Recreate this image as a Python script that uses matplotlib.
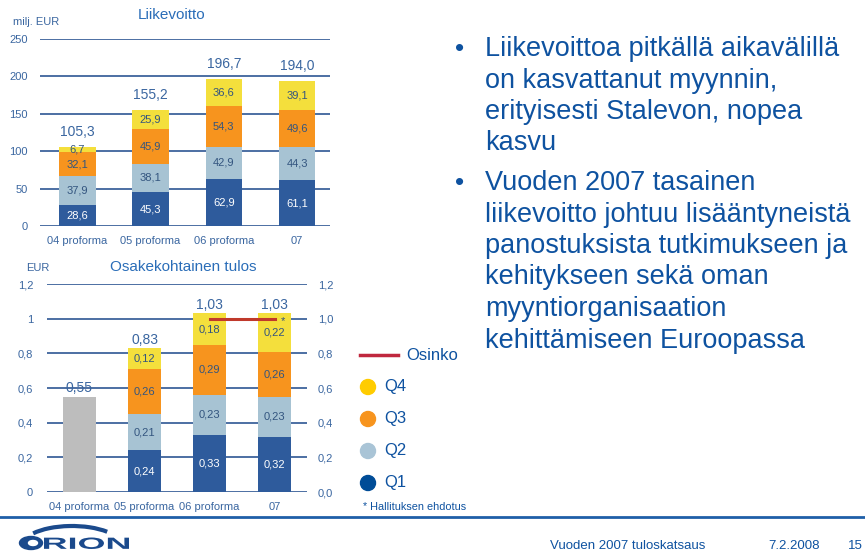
import matplotlib.pyplot as plt
import numpy as np
from matplotlib.patches import Ellipse, Arc, PathPatch
from matplotlib.textpath import TextPath
from matplotlib.font_manager import FontProperties
from matplotlib.transforms import Affine2D

plt.rcParams['font.family'] = ['Liberation Sans', 'DejaVu Sans']

# ---- data ----
years = ["04 proforma", "05 proforma", "06 proforma", "07"]

# Liikevoitto (milj. EUR), quarters stacked Q1..Q4
ebit_q1 = [28.6, 45.3, 62.9, 61.1]
ebit_q2 = [37.9, 38.1, 42.9, 44.3]
ebit_q3 = [32.1, 45.9, 54.3, 49.6]
ebit_q4 = [6.7, 25.9, 36.6, 39.1]
ebit_total = [105.3, 155.2, 196.7, 194.0]

# Osakekohtainen tulos (EUR)
eps_04 = [0.55]  # 04 proforma, full year only
eps_q1 = [0.24, 0.33, 0.32]
eps_q2 = [0.21, 0.23, 0.23]
eps_q3 = [0.26, 0.29, 0.26]
eps_q4 = [0.12, 0.18, 0.22]
eps_total = [0.55, 0.83, 1.03, 1.03]
dividend_x = [2, 3]
dividend = [1.0, 1.0]

quarters = ["Q4", "Q3", "Q2", "Q1"]

# ---- style ----
C_Q1 = "#2E5B9C"
C_Q2 = "#A7C3D3"
C_Q3 = "#F7941E"
C_Q4 = "#F4DF3C"
C_GRAY = "#BDBDBD"
C_GRID = "#4C6FA3"
C_TICK = "#3A66A0"
C_TEXT = "#0E52A0"
C_INNER = "#33557F"
C_DIV = "#C0392B"
C_LOGO = "#1B4A8C"
LEG_COLORS = ["#FFCC00", "#F7941E", "#A9C4D6", "#004C97"]

W, H = 865, 554
fig = plt.figure(figsize=(W / 100, H / 100), dpi=100)


def px_axes(left, top, right, bottom):
    return fig.add_axes([left / W, 1 - bottom / H, (right - left) / W, (bottom - top) / H])


def fmt(v, nd):
    return f"{v:.{nd}f}".replace(".", ",")


def style_axes(ax, yticks, ylabels, pad):
    ax.set_yticks(yticks)
    ax.set_yticklabels(ylabels)
    ax.grid(axis="y", color=C_GRID, linewidth=1.4)
    ax.set_axisbelow(True)
    for s in ax.spines.values():
        s.set_visible(False)
    ax.tick_params(axis="both", length=0, labelsize=8, colors=C_TICK)
    ax.tick_params(axis="y", pad=pad)
    ax.tick_params(axis="x", pad=7)
    ax.set_xticks(range(len(years)))
    ax.set_xticklabels(years)


# ---- top chart: Liikevoitto ----
ax1 = px_axes(40, 39, 330, 226)
x = np.arange(len(years))
colors = [C_Q1, C_Q2, C_Q3, C_Q4]
bottom = np.zeros(len(years))
for i, (vals, c) in enumerate(zip([ebit_q1, ebit_q2, ebit_q3, ebit_q4], colors)):
    vals = np.array(vals)
    ax1.bar(x, vals, bottom=bottom, width=0.5, color=c, zorder=3)
    for xi, v, b in zip(x, vals, bottom):
        ax1.text(xi, b + v / 2, fmt(v, 1), ha="center", va="center", fontsize=8,
                 color="white" if i == 0 else C_INNER, zorder=4)
    bottom += vals
for xi, t, b in zip(x, ebit_total, bottom):
    ax1.text(xi, b + 11, fmt(t, 1), ha="center", va="bottom", fontsize=10, color=C_TICK)
ax1.set_ylim(0, 250)
ax1.set_xlim(-0.51, 3.45)
style_axes(ax1, [0, 50, 100, 150, 200, 250], ["0", "50", "100", "150", "200", "250"], 9)

# ---- bottom chart: EPS ----
ax2 = px_axes(47, 284, 307, 492)
x2 = np.arange(1, 4)
ax2.bar([0], eps_04, width=0.51, color=C_GRAY, zorder=3)
bottom = np.zeros(3)
for i, (vals, c) in enumerate(zip([eps_q1, eps_q2, eps_q3, eps_q4], colors)):
    vals = np.array(vals)
    ax2.bar(x2, vals, bottom=bottom, width=0.51, color=c, zorder=3)
    for xi, v, b in zip(x2, vals, bottom):
        ax2.text(xi, b + v / 2, fmt(v, 2), ha="center", va="center", fontsize=8,
                 color="white" if i == 0 else C_INNER, zorder=4)
    bottom += vals
tops = [eps_04[0]] + list(bottom)
for xi, t, b in zip(range(4), eps_total, tops):
    ax2.text(xi, b + 0.008, fmt(t, 2), ha="center", va="bottom", fontsize=10, color=C_TICK, zorder=5)
ax2.plot(dividend_x, dividend, color=C_DIV, linewidth=2.2, zorder=5)
ax2.text(3.13, 0.985, "*", ha="center", va="center", fontsize=8, color=C_INNER, zorder=6)
ax2.set_ylim(0, 1.2)
ax2.set_xlim(-0.5, 3.5)
eps_ticks = [0, 0.2, 0.4, 0.6, 0.8, 1.0, 1.2]
style_axes(ax2, eps_ticks, ["0", "0,2", "0,4", "0,6", "0,8", "1", "1,2"], 10)
ax2r = ax2.twinx()
ax2r.set_ylim(0, 1.2)
ax2r.set_yticks(eps_ticks)
ax2r.set_yticklabels([fmt(t, 1) for t in eps_ticks])
for s in ax2r.spines.values():
    s.set_visible(False)
ax2r.tick_params(axis="y", length=0, labelsize=8, colors=C_TICK, pad=8)

# ---- overlay in pixel coords for slide text ----
ov = fig.add_axes([0, 0, 1, 1], zorder=-1)
ov.set_xlim(0, W)
ov.set_ylim(H, 0)
ov.axis("off")

ov.text(172, 15, "Liikevoitto", ha="center", va="center", fontsize=11, color="#2A6DB8")
ov.text(13, 22, "milj. EUR", ha="left", va="center", fontsize=8, color=C_TICK)
ov.text(183, 267, "Osakekohtainen tulos", ha="center", va="center", fontsize=11, color="#2A6DB8")
ov.text(26, 268, "EUR", ha="left", va="center", fontsize=8, color=C_TICK)

# legend
ov.plot([360, 398], [355, 355], color="#C0283E", linewidth=2.5)
ov.text(406, 355, "Osinko", ha="left", va="center", fontsize=12, color=C_TEXT)
for k, (q, c) in enumerate(zip(quarters, LEG_COLORS)):
    yy = 387 + k * 32
    ov.add_patch(Ellipse((368, yy), 15, 15, color=c))
    ov.text(384, yy, q, ha="left", va="center", fontsize=12, color=C_TEXT)
ov.text(363, 507, "* Hallituksen ehdotus", ha="left", va="center", fontsize=7.8, color=C_TEXT)

# bullets
bullets = [
    ["Liikevoittoa pitkällä aikavälillä", "on kasvattanut myynnin,",
     "erityisesti Stalevon, nopea", "kasvu"],
    ["Vuoden 2007 tasainen", "liikevoitto johtuu lisääntyneistä",
     "panostuksista tutkimukseen ja", "kehitykseen sekä oman",
     "myyntiorganisaation", "kehittämiseen Euroopassa"],
]
y0 = 49
for para in bullets:
    ov.text(455, y0, "•", ha="left", va="center", fontsize=19, color=C_TEXT)
    for j, line in enumerate(para):
        ov.text(485, y0 + j * 31.5, line, ha="left", va="center", fontsize=19.5, color=C_TEXT)
    y0 += len(para) * 31.5 + 8

# footer
ov.plot([0, W], [517, 517], color="#1F5FA8", linewidth=2)
# logo (y axis is inverted, so the upper arc uses angles 180..360)
ov.add_patch(Arc((72, 546), 100, 40, theta1=198, theta2=338, color=C_LOGO, linewidth=3))
ov.add_patch(Ellipse((31, 543), 23, 13, color=C_LOGO))
ov.add_patch(Ellipse((33, 543), 9, 5, color="white"))
tp = TextPath((0, 0), "RION", size=1, prop=FontProperties(family="Liberation Sans", weight="bold"))
ext = tp.get_extents()
sx = 85 / ext.width
sy = 11.5 / ext.height
tp = tp.transformed(Affine2D().translate(-ext.x0, -ext.y0).scale(sx, -sy).translate(44, 549))
ov.add_patch(PathPatch(tp, color=C_LOGO, lw=0))

ov.text(550, 546, "Vuoden 2007 tuloskatsaus", ha="left", va="center", fontsize=9.5, color=C_TEXT)
ov.text(768, 546, "7.2.2008", ha="left", va="center", fontsize=9.5, color=C_TEXT)
ov.text(848, 546, "15", ha="left", va="center", fontsize=9.5, color=C_TEXT)

fig.savefig("out.png", dpi=100)
